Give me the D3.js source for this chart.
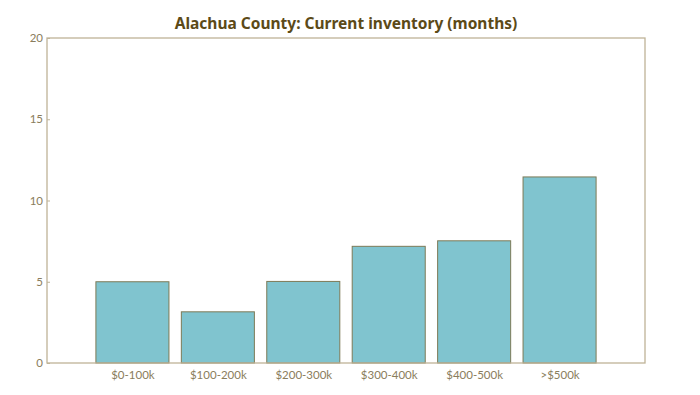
<!DOCTYPE html>
<html lang="en">
<head>
<meta charset="UTF-8">
<title>Alachua County inventory</title>
<script src="https://cdn.jsdelivr.net/npm/d3@7"></script>
<style>
  body { margin: 0; background: #fff; }
  svg text { font-family: Lato, "Noto Sans", sans-serif; }
</style>
</head>
<body>
<svg></svg>
<script>
// data
var categories = ["$0-100k", "$100-200k", "$200-300k", "$300-400k", "$400-500k", ">$500k"]
var months = [5.0, 3.15, 5.02, 7.18, 7.52, 11.45]
var yTicks = [0, 5, 10, 15, 20]

var width = 700, height = 395
// plot box (don't use "top" as a global name, it's window.top)
var plotL = 47, plotR = 645, plotT = 38, plotB = 363

var svg = d3.select("svg")
    .attr("width", width)
    .attr("height", height)

// bars sit at index 1..6, axis runs 0..7
var x = d3.scaleLinear().domain([0, 7]).range([plotL, plotR])
var y = d3.scaleLinear().domain([0, 20]).range([plotB, plotT])
var barW = 0.855

var axisColor = "#bfb397"
var labelColor = "#8a7d5c"

svg.selectAll("rect.bar")
    .data(months)
    .join("rect")
    .attr("class", "bar")
    .attr("x", (d, i) => x(i + 1 - barW / 2))
    .attr("width", x(barW) - x(0))
    .attr("y", d => y(d))
    .attr("height", d => y(0) - y(d))
    .attr("fill", "#80c4cf")
    .attr("stroke", "#7d7a57")
    .attr("stroke-width", 1)

// frame
svg.append("rect")
    .attr("x", plotL).attr("y", plotT)
    .attr("width", plotR - plotL).attr("height", plotB - plotT)
    .attr("fill", "none")
    .attr("stroke", axisColor)
    .attr("stroke-width", 1.3)

var yAxis = svg.append("g")
    .attr("transform", "translate(" + plotL + ",0)")
    .call(d3.axisRight(y).tickValues(yTicks).tickSize(3))
yAxis.select(".domain").remove()
yAxis.selectAll("line").attr("stroke", axisColor)
yAxis.selectAll("text")
    .attr("text-anchor", "end")
    .attr("x", -4)
    .attr("fill", labelColor)
    .attr("font-size", 11.5)

var xAxis = svg.append("g")
    .attr("transform", "translate(0," + plotB + ")")
    .call(d3.axisBottom(x).tickValues(d3.range(1, 7)).tickFormat((d, i) => categories[i]).tickSize(0).tickPadding(8))
xAxis.select(".domain").remove()
xAxis.selectAll("text")
    .attr("fill", labelColor)
    .attr("font-size", 11.5)

svg.append("text")
    .attr("x", (plotL + plotR) / 2)
    .attr("y", 29)
    .attr("text-anchor", "middle")
    .style("font-family", "'Noto Sans', sans-serif")
    .attr("font-size", 15.5)
    .attr("font-weight", "bold")
    .attr("fill", "#5c4a17")
    .text("Alachua County: Current inventory (months)")
</script>
</body>
</html>
